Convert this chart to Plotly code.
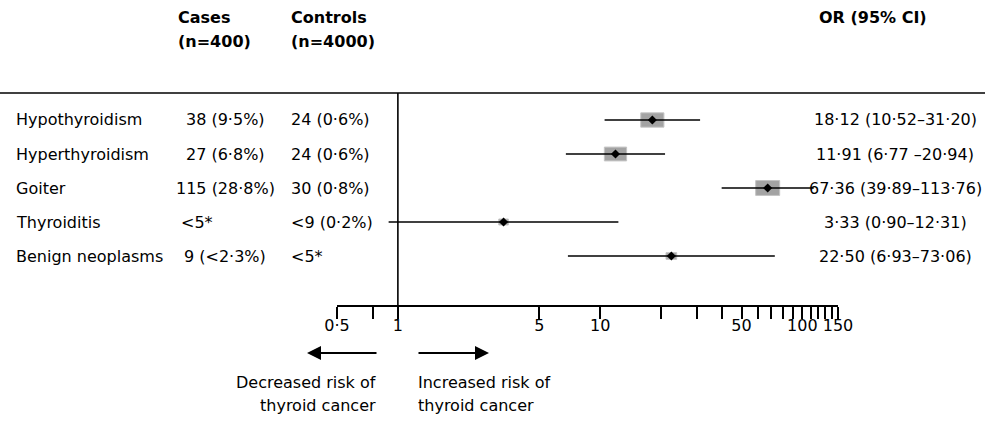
import math
import plotly.graph_objects as go

# ---------------- data ----------------
conditions = ["Hypothyroidism", "Hyperthyroidism", "Goiter", "Thyroiditis", "Benign neoplasms"]
cases = ["38 (9·5%)", "27 (6·8%)", "115 (28·8%)", "<5*", "9 (<2·3%)"]
controls = ["24 (0·6%)", "24 (0·6%)", "30 (0·8%)", "<9 (0·2%)", "<5*"]
or_est = [18.12, 11.91, 67.36, 3.33, 22.50]
ci_low = [10.52, 6.77, 39.89, 0.90, 6.93]
ci_high = [31.20, 20.94, 113.76, 12.31, 73.06]
or_text = ["18·12 (10·52–31·20)", "11·91 (6·77 –20·94)", "67·36 (39·89–113·76)",
           "3·33 (0·90–12·31)", "22·50 (6·93–73·06)"]
tick_vals = [0.5, 0.75, 1, 5, 10, 20, 30, 40, 50, 60, 70, 80, 90, 100, 110, 120, 130, 140, 150]
tick_text = ["0·5", "", "1", "5", "10", "", "", "", "50", "", "", "", "", "100", "", "", "", "", "150"]
header_cases = ["Cases", "(n=400)"]
header_controls = ["Controls", "(n=4000)"]
header_or = "OR (95% CI)"
arrow_left_text = ["Decreased risk of", "thyroid cancer"]
arrow_right_text = ["Increased risk of", "thyroid cancer"]

# ---------------- layout helpers ----------------
W, H = 1000, 424
FONT = "DejaVu Sans"
FS = 16


def px(x):
    return x / W


def py(y):
    return 1 - y / H


rows = list(range(len(conditions)))
ROW0, ROWSTEP = 120, 34
TOP, AXIS_Y = 93, 305
X_LEFT, X_RIGHT = 337, 838
XMIN, XMAX = 0.5, 150
y_top = (TOP - ROW0) / ROWSTEP
y_bot = (AXIS_Y - ROW0) / ROWSTEP
px_per_decade = (X_RIGHT - X_LEFT) / (math.log10(XMAX) - math.log10(XMIN))

fig = go.Figure()

# CI lines
for r in rows:
    fig.add_trace(go.Scatter(x=[ci_low[r], ci_high[r]], y=[r, r], mode="lines",
                             line=dict(color="black", width=1.6), hoverinfo="skip",
                             showlegend=False))
# point estimates
fig.add_trace(go.Scatter(x=or_est, y=rows, mode="markers",
                         marker=dict(symbol="diamond", size=7, color="black"),
                         showlegend=False))

shapes = []
# weight boxes (inverse variance, area proportional to weight)
se = [(math.log(h) - math.log(l)) / (2 * 1.96) for l, h in zip(ci_low, ci_high)]
wts = [1 / s ** 2 for s in se]
kmax = max(math.sqrt(w) for w in wts)
for r in rows:
    side = 24 * math.sqrt(wts[r]) / kmax
    fx = 10 ** (side / 2 / px_per_decade)
    hh = side * 0.31 / ROWSTEP
    shapes.append(dict(type="rect", xref="x", yref="y", layer="below",
                       x0=or_est[r] / fx, x1=or_est[r] * fx, y0=r - hh, y1=r + hh,
                       fillcolor="#a3a3a3", line=dict(color="#c4c4c4", width=1)))
# reference line at OR = 1
shapes.append(dict(type="line", xref="x", yref="y domain", x0=1, x1=1, y0=0, y1=1,
                   line=dict(color="black", width=1.6)))
# header rule
shapes.append(dict(type="line", xref="paper", yref="paper", x0=0, x1=px(985),
                   y0=py(TOP), y1=py(TOP), line=dict(color="black", width=1.6)))

ann = []


def text(t, x, y, xanchor="left", yref="paper", bold=False):
    ann.append(dict(text=("<b>%s</b>" % t) if bold else t, x=x, y=y, xref="paper", yref=yref,
                    xanchor=xanchor, yanchor="middle", showarrow=False,
                    font=dict(family=FONT, size=FS, color="black")))


# headers
text(header_cases[0], px(176), py(17), bold=True)
text(header_cases[1], px(176), py(41), bold=True)
text(header_controls[0], px(289), py(17), bold=True)
text(header_controls[1], px(289), py(41), bold=True)
text(header_or, px(817), py(17), bold=True)

# rows
for r in rows:
    text(conditions[r], px(14), r, yref="y")
    if cases[r].startswith("<5"):
        text(cases[r], px(179), r, yref="y")
    else:
        text(cases[r], px(225), r, xanchor="center", yref="y")
    text(controls[r], px(289), r, yref="y")
    text(or_text[r], px(895), r, xanchor="center", yref="y")

# direction arrows
ann.append(dict(x=px(307), y=py(353), xref="paper", yref="paper", ax=71, ay=0,
                text="", showarrow=True, arrowhead=2, arrowsize=1.4, arrowwidth=2,
                arrowcolor="black", standoff=0, startstandoff=0))
ann.append(dict(x=px(489), y=py(353), xref="paper", yref="paper", ax=-72, ay=0,
                text="", showarrow=True, arrowhead=2, arrowsize=1.4, arrowwidth=2,
                arrowcolor="black", standoff=0, startstandoff=0))
text(arrow_left_text[0], px(378), py(382), xanchor="right")
text(arrow_left_text[1], px(378), py(405), xanchor="right")
text(arrow_right_text[0], px(416), py(382))
text(arrow_right_text[1], px(416), py(405))

fig.update_layout(
    width=W, height=H, margin=dict(l=0, r=0, t=0, b=0, pad=0, autoexpand=False),
    paper_bgcolor="white", plot_bgcolor="rgba(0,0,0,0)",
    font=dict(family=FONT, size=FS, color="black"),
    shapes=shapes, annotations=ann, showlegend=False, hovermode=False,
    xaxis=dict(type="log", domain=[px(X_LEFT), px(X_RIGHT)],
               range=[math.log10(XMIN), math.log10(XMAX)],
               tickvals=tick_vals, ticktext=tick_text, ticks="outside", ticklen=12,
               tickwidth=1.6, tickcolor="black", showline=True, linecolor="black",
               linewidth=1.6, showgrid=False, zeroline=False, ticklabelstandoff=-7,
               tickfont=dict(family=FONT, size=FS, color="black")),
    yaxis=dict(domain=[py(AXIS_Y), py(TOP)], range=[y_bot, y_top], visible=False,
               showgrid=False, zeroline=False),
)

fig.write_html("out.html", config={"displayModeBar": False},
               post_script="document.body.style.margin='0px';")
